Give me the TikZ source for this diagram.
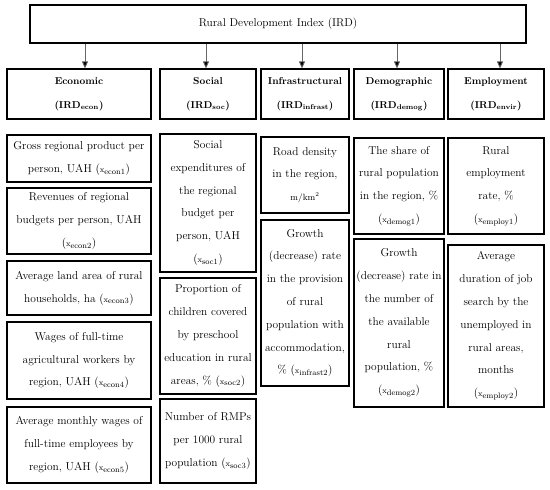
\documentclass[tikz,border=0pt]{standalone}
\usetikzlibrary{arrows.meta}
\newcommand\xsb[1]{{\footnotesize x}\textsubscript{#1}}
\begin{document}
\begin{tikzpicture}[x=1pt,y=-1pt,
 box/.style={draw, line width=1.2pt, fill=white, inner sep=0pt, align=center, font=\fontsize{11.4}{22.8}\selectfont},
 cat/.style={box, font=\bfseries\fontsize{10}{24}\selectfont},
 arr/.style={draw=black!60, line width=0.8pt, -{Triangle[length=7pt,width=6pt,fill=black]}}]
\useasboundingbox (0,0) rectangle (550,490);
\node[box, minimum width=496, minimum height=38] (top) at (278,24) {Rural Development Index (IRD)};
% categories
\node[cat, minimum width=144, minimum height=50] (c1) at (79,94) {Economic\\(IRD\textsubscript{econ})};
\node[cat, minimum width=96, minimum height=50] (c2) at (208,94) {Social\\(IRD\textsubscript{soc})};
\node[cat, minimum width=88, minimum height=50] (c3) at (305,94) {Infrastructural\\(IRD\textsubscript{infrast})};
\node[cat, minimum width=90, minimum height=50] (c4) at (399,94) {Demographic\\(IRD\textsubscript{demog})};
\node[cat, minimum width=96, minimum height=50] (c5) at (496,94) {Employment\\(IRD\textsubscript{envir})};
% arrow positions
\coordinate (a1) at (85,0);
\coordinate (a2) at (206,0);
\coordinate (a3) at (302,0);
\coordinate (a4) at (397,0);
\coordinate (a5) at (500,0);
\foreach \i in {1,...,5}{
  \draw[arr] (top.south -| a\i) -- (c\i.north -| a\i);
}
% economic
\node[box, minimum width=144, minimum height=47] (e1) at (79,158.5) {Gross regional product per\\person, UAH (\xsb{econ1})};
\node[box, minimum width=144, minimum height=66] (e2) at (79,221) {Revenues of regional\\budgets per person, UAH\\(\xsb{econ2})};
\node[box, minimum width=144, minimum height=54] (e3) at (79,288) {Average land area of rural\\households, ha (\xsb{econ3})};
\node[box, minimum width=144, minimum height=77] (e4) at (79,360.5) {Wages of full-time\\agricultural workers by\\region, UAH (\xsb{econ4})};
\node[box, minimum width=144, minimum height=76] (e5) at (79,445) {Average monthly wages of\\full-time employees by\\region, UAH (\xsb{econ5})};
% social
\node[box, minimum width=96, minimum height=138] (s1) at (208,203) {Social\\expenditures of\\the regional\\budget per\\person, UAH\\(\xsb{soc1})};
\node[box, minimum width=96, minimum height=116] (s2) at (208,336) {Proportion of\\children covered\\by preschool\\education in rural\\areas, \% (\xsb{soc2})};
\node[box, minimum width=96, minimum height=84] (s3) at (208,441) {Number of RMPs\\per 1000 rural\\population (\xsb{soc3})};
% infrastructural
\node[box, minimum width=88, minimum height=76] (i1) at (305,175) {Road density\\in the region,\\{\small m/km\textsuperscript{2}}};
\node[box, minimum width=88, minimum height=166] (i2) at (305,303) {Growth\\(decrease) rate\\in the provision\\of rural\\population with\\accommodation,\\\% (\xsb{infrast2})};
% demographic
\node[box, minimum width=90, minimum height=96] (d1) at (399,186) {The share of\\rural population\\in the region, \%\\(\xsb{demog1})};
\node[box, minimum width=90, minimum height=168] (d2) at (399,323) {Growth\\(decrease) rate in\\the number of\\the available\\rural\\population, \%\\(\xsb{demog2})};
% employment
\node[box, minimum width=96, minimum height=96] (m1) at (496,186) {Rural\\employment\\rate, \%\\(\xsb{employ1})};
\node[box, minimum width=96, minimum height=162] (m2) at (496,326) {Average\\duration of job\\search by the\\unemployed in\\rural areas,\\months\\(\xsb{employ2})};
\end{tikzpicture}
\end{document}
